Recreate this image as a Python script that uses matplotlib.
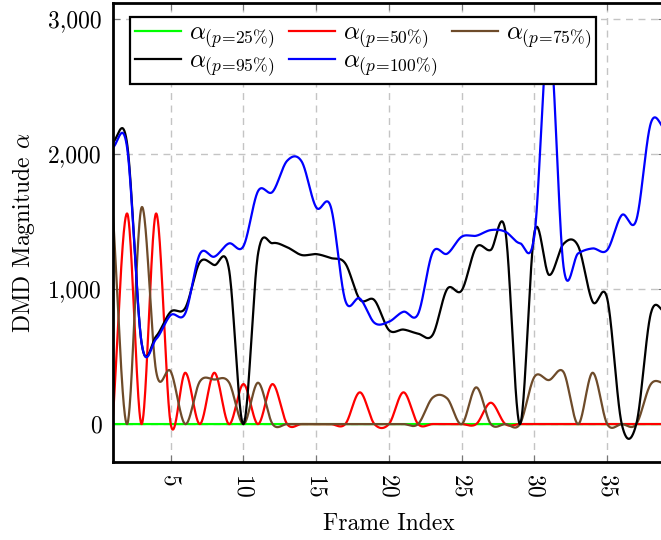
import numpy as np
import matplotlib
matplotlib.use("Agg")
import matplotlib.pyplot as plt
from matplotlib.ticker import FuncFormatter, FixedLocator

plt.rcParams['font.family'] = 'serif'
plt.rcParams['font.serif'] = ['cmr10']
plt.rcParams['mathtext.fontset'] = 'cm'
plt.rcParams['axes.unicode_minus'] = False
plt.rcParams['axes.formatter.use_mathtext'] = True

frames = list(range(1, 40))

p25 = [0] * 39
p50 = [0, 1560, 0, 1560, 0, 380, 0, 380, 0, 296,
       0, 296, 0, 0, 0, 0, 0, 235, 0, 0,
       235, 0, 0, 0, 0, 0, 158, 0, 0, 0,
       0, 0, 0, 0, 0, 0, 0, 0, 0]
p75 = [1600, 0, 1605, 390, 390, 0, 315, 330, 310, 0,
       306, 0, 0, 0, 0, 0, 0, 0, 0, 0,
       0, 0, 195, 190, 0, 272, 0, 0, 0, 350,
       326, 385, 0, 380, 0, 0, 0, 296, 301]
p95 = [2090, 2080, 600, 650, 832, 860, 1198, 1178, 1150, 0,
       1260, 1340, 1310, 1252, 1259, 1230, 1190, 923, 918, 696,
       700, 670, 660, 1000, 990, 1310, 1290, 1430, 0, 1420,
       1105, 1335, 1320, 906, 930, 0, 0, 820, 830]
p100 = [2050, 2050, 600, 630, 807, 820, 1259, 1240, 1338, 1318,
        1725, 1720, 1950, 1945, 1605, 1610, 915, 930, 750, 758,
        832, 815, 1270, 1262, 1388, 1395, 1437, 1425, 1340, 1400,
        2900, 1165, 1264, 1301, 1289, 1548, 1511, 2230, 2180]

labels = [r'$\alpha_{(p\!=\!25\%)}$', r'$\alpha_{(p\!=\!50\%)}$', r'$\alpha_{(p\!=\!75\%)}$',
          r'$\alpha_{(p\!=\!95\%)}$', r'$\alpha_{(p\!=\!100\%)}$']
colors = ['#00ff00', '#ff0000', '#6e4b2a', '#000000', '#0000ff']


def smooth(x, y, n=40):
    x = np.asarray(x, float)
    y = np.asarray(y, float)
    m = np.zeros_like(y)
    m[1:-1] = (y[2:] - y[:-2]) / 2.0
    m[0] = y[1] - y[0]
    m[-1] = y[-1] - y[-2]
    xs, ys = [], []
    t = np.linspace(0, 1, n, endpoint=False)
    h00 = 2 * t**3 - 3 * t**2 + 1
    h10 = t**3 - 2 * t**2 + t
    h01 = -2 * t**3 + 3 * t**2
    h11 = t**3 - t**2
    for i in range(len(x) - 1):
        xs.append(x[i] + t * (x[i + 1] - x[i]))
        ys.append(h00 * y[i] + h10 * m[i] + h01 * y[i + 1] + h11 * m[i + 1])
    xs.append([x[-1]])
    ys.append([y[-1]])
    return np.concatenate(xs), np.concatenate(ys)


fig = plt.figure(figsize=(6.61, 5.40), dpi=100)
W, H = 661, 540
left, right, top, bottom = 112.5, 665.4, 3, 462
ax = fig.add_axes([left / W, 1 - bottom / H, (right - left) / W, (bottom - top) / H])

handles = []
for ys, c, lab in zip([p25, p50, p75, p95, p100], colors, labels):
    sx, sy = smooth(frames, ys)
    h, = ax.plot(sx, sy, color=c, lw=1.6, label=lab, solid_joinstyle='round')
    handles.append(h)

ax.set_xlim(1, 39)
ax.set_ylim(-281, 3119)
ax.xaxis.set_major_locator(FixedLocator([5, 10, 15, 20, 25, 30, 35]))
ax.yaxis.set_major_locator(FixedLocator([0, 1000, 2000, 3000]))
ax.yaxis.set_major_formatter(FuncFormatter(lambda v, p: f'{int(v):,}'))
ax.grid(True, color='#c4c4c4', linestyle=(0, (5, 4)), linewidth=1.0)
ax.set_axisbelow(True)
ax.tick_params(direction='in', length=5, width=0.8, color='#777777',
               top=True, right=True, labelsize=17, pad=8)
for lbl in ax.get_xticklabels():
    lbl.set_rotation(270)
for s in ax.spines.values():
    s.set_linewidth(2.0)

ax.set_xlabel('Frame Index', fontsize=17, labelpad=11)
ax.set_ylabel(r'DMD Magnitude $\alpha$', fontsize=17, labelpad=8)

order = [0, 3, 1, 4, 2]
leg = ax.legend([handles[i] for i in order], [labels[i] for i in order], ncol=3,
                loc='upper left', bbox_to_anchor=(130 / W, 1 - 17 / H),
                bbox_transform=fig.transFigure, borderaxespad=0, fontsize=18,
                fancybox=False, framealpha=1, edgecolor='black',
                handlelength=1.85, handletextpad=0.3, columnspacing=0.6,
                labelspacing=0.0, borderpad=0.2)
leg.set_zorder(10)
leg.get_frame().set_linewidth(1.6)

fig.savefig('out.png', dpi=100)
